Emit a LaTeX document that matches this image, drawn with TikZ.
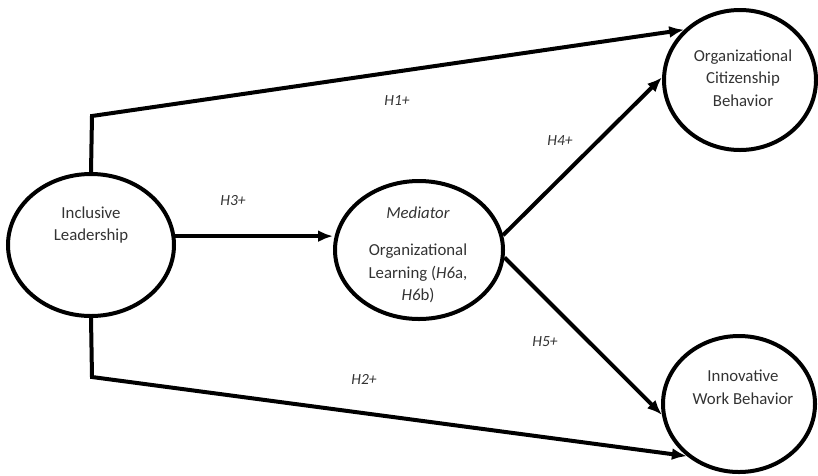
\documentclass[tikz,border=0pt]{standalone}
\usepackage{fontspec}
\setmainfont{Carlito}
\usetikzlibrary{shapes.geometric,arrows.meta}
\begin{document}
\begin{tikzpicture}[x=1pt,y=-1pt,
  ell/.style={draw,ellipse,line width=4pt,inner sep=0pt},
  txt/.style={align=center,font=\fontsize{16.8}{22.5}\selectfont,text=black!80},
  lab/.style={font=\fontsize{15.5}{18}\selectfont\itshape,text=black!80},
  conn/.style={line width=4pt,line join=miter},
  arr/.style={conn,-{Latex[length=15pt,width=12pt]}}]
\useasboundingbox (0,0) rectangle (818,475);
\node[ell,minimum width=166pt,minimum height=142pt] (L) at (91,245) {};
\node[ell,minimum width=168pt,minimum height=138pt] (M) at (419,250) {};
\node[ell,minimum width=152pt,minimum height=140pt] (O) at (740,80) {};
\node[ell,minimum width=152pt,minimum height=136pt] (I) at (739,404) {};
\node[txt] (Lt) at (91,225) {Inclusive\\Leadership};
\node[txt] (Mt) at (418,255) {\textit{Mediator}\\[15pt]Organizational\\Learning (\textit{H6}a,\\\textit{H6}b)};
\node[txt] (Ot) at (743,78) {Organizational\\Citizenship\\Behavior};
\node[txt] (It) at (743,387) {Innovative\\Work Behavior};
\coordinate (c1) at (92,116);
\coordinate (c2) at (92,377);
\draw[arr] (L.north) -- (c1) -- (O.138);
\draw[arr] (L.south) -- (c2) -- (I.225);
\draw[arr] (L.6) -- (L.6 -| M.west);
\draw[arr] (M.10) -- (O.178);
\draw[arr] (M.355) -- (I.188);
\node[lab] (h1) at (397,101) {H1+};
\node[lab] (h2) at (364,379) {H2+};
\node[lab] (h3) at (233,201) {H3+};
\node[lab] (h4) at (560,141) {H4+};
\node[lab] (h5) at (545,342) {H5+};
\end{tikzpicture}
\end{document}
